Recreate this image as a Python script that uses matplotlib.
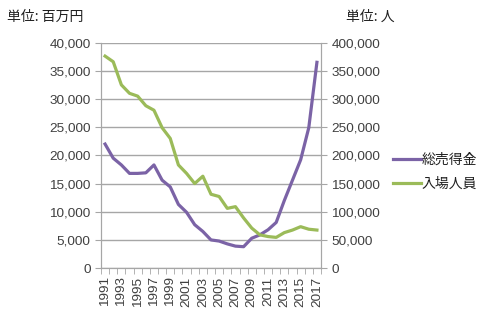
import numpy as np
import matplotlib.pyplot as plt
from matplotlib.ticker import FuncFormatter, MultipleLocator

plt.rcParams['font.family'] = ['Liberation Sans', 'Noto Sans CJK JP', 'DejaVu Sans']

years = list(range(1991, 2018))
# 総売得金 (百万円)
sales = [22000, 19500, 18300, 16800, 16800, 16900, 18300, 15600, 14400, 11300,
         9900, 7700, 6500, 5000, 4800, 4300, 3900, 3800, 5300, 5900,
         6800, 8100, 12000, 15600, 19200, 24900, 36500]
# 入場人員 (人)
visitors = [376000, 366000, 325000, 310000, 305000, 288000, 280000, 249000, 230000, 183000,
            168000, 150000, 163000, 131000, 127000, 106000, 109000, 89000, 71000, 59000,
            56000, 54500, 63000, 67500, 73500, 69000, 67500]

purple = '#7b63a6'
green = '#9bbb59'
grid_c = '#a6a6a6'
text_c = '#404040'
cjk = ['Noto Sans CJK JP', 'DejaVu Sans']

fig = plt.figure(figsize=(5, 3.25), dpi=100)
ax = fig.add_axes([0.202, 0.175, 0.44, 0.694])
ax2 = ax.twinx()

x = np.arange(len(years))
l1, = ax.plot(x, sales, color=purple, lw=2.3, label='総売得金', solid_joinstyle='round')
l2, = ax2.plot(x, visitors, color=green, lw=2.3, label='入場人員', solid_joinstyle='round')

ax.set_xlim(-0.5, len(years) - 0.5)
ax.set_ylim(0, 40000)
ax2.set_ylim(0, 400000)
ax.yaxis.set_major_locator(MultipleLocator(5000))
ax2.yaxis.set_major_locator(MultipleLocator(50000))
fmt = FuncFormatter(lambda v, p: f'{int(v):,}')
ax.yaxis.set_major_formatter(fmt)
ax2.yaxis.set_major_formatter(fmt)
ax.grid(axis='y', color=grid_c, lw=1)
ax.set_axisbelow(True)

# year labels on every other category, tick marks between categories
ax.set_xticks(x[::2])
ax.set_xticklabels([str(y) for y in years[::2]], rotation=90)
ax.set_xticks(np.arange(-0.5, len(years)), minor=True)
ax.tick_params(axis='x', which='major', length=0, pad=6, labelcolor=text_c, labelsize=9.7)
ax.tick_params(axis='x', which='minor', length=4, color=grid_c, direction='out')
ax.tick_params(axis='y', length=4, color=grid_c, labelcolor=text_c, labelsize=9.7)
ax2.tick_params(axis='y', length=4, color=grid_c, labelcolor=text_c, labelsize=9.7)

for a in (ax, ax2):
    a.spines['top'].set_visible(False)
    for s in ('left', 'right', 'bottom'):
        a.spines[s].set_color(grid_c)

fig.text(0.014, 0.948, '単位: 百万円', fontsize=10, color='#202020',
         family=cjk, va='center')
fig.text(0.692, 0.948, '単位: 人', fontsize=10, color='#202020',
         family=cjk, va='center')

leg = fig.legend(handles=[l1, l2], loc='center left', bbox_to_anchor=(0.786, 0.471),
                 frameon=False, handlelength=2.0, handletextpad=0.05, labelspacing=0.7,
                 borderpad=0, borderaxespad=0,
                 prop={'family': cjk, 'size': 10})
for t in leg.get_texts():
    t.set_color('#202020')

fig.savefig('out.png', dpi=100)
